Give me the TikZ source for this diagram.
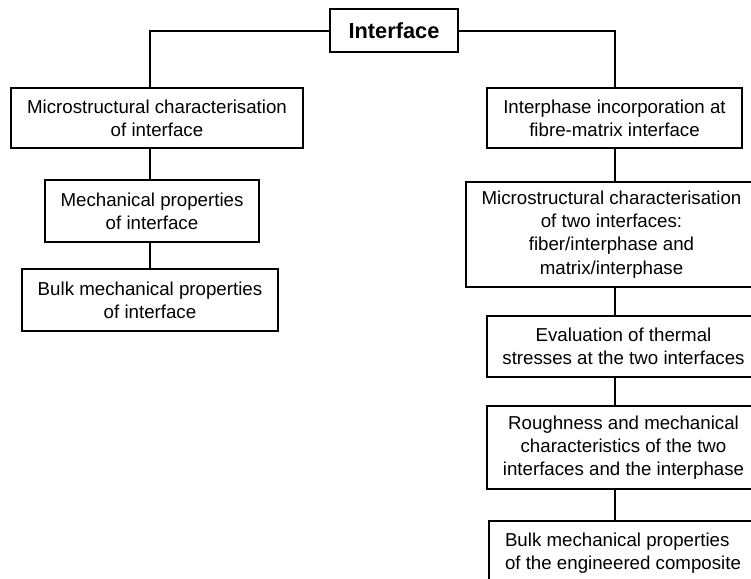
\documentclass[tikz,border=0pt]{standalone}
\usepackage{fontspec}
\setmainfont{Liberation Sans}
\usepackage{tikz}
\usetikzlibrary{positioning,calc}
\newcommand{\boxfont}{\fontsize{9.35}{11.6}\selectfont}
\newcommand{\headfont}{\fontsize{10.9}{13}\selectfont\bfseries}
\tikzset{
  blok/.style={rectangle, draw=black, line width=1pt, align=center, inner sep=0pt,
               font=\boxfont},
  link/.style={line width=1pt, draw=black},
}

\begin{document}
\begin{tikzpicture}[x=0.5pt, y=-0.5pt]
    \path[use as bounding box, clip] (0,0) rectangle (751,579);
    \node[blok, font=\headfont, minimum width=64pt, minimum height=21.5pt] (iface) at (394,30.5)
      {Interface};
    % left branch
    \coordinate (lspine) at (150,0);
    \node[blok, minimum width=146pt, minimum height=30pt] (l1) at (157,118)
      {Microstructural characterisation\\of interface};
    \node[blok, minimum width=107pt, minimum height=31pt] (l2) at (152,211)
      {Mechanical properties\\of interface};
    \node[blok, minimum width=128pt, minimum height=31pt] (l3) at (150,300)
      {Bulk mechanical properties\\of interface};
    % right branch
    \coordinate (rspine) at (614.5,0);
    \node[blok, minimum width=127.5pt, minimum height=30pt] (r1) at (614.5,118)
      {Interphase incorporation at\\fibre-matrix interface};
    \node[blok, minimum width=145.5pt, minimum height=52.5pt] (r2) at (611.5,234.5)
      {Microstructural characterisation\\of two interfaces:\\fiber/interphase and\\matrix/interphase};
    \node[blok, minimum width=136.5pt, minimum height=30.5pt] (r3) at (623.5,346.5)
      {Evaluation of thermal\\stresses at the two interfaces};
    \node[blok, minimum width=136.5pt, minimum height=41.5pt] (r4) at (623.5,447.5)
      {Roughness and mechanical\\characteristics of the two\\interfaces and the interphase};
    \node[blok, align=left, minimum width=134pt, minimum height=32pt] (r5) at (623,553)
      {Bulk mechanical properties\\of the engineered composite};
    \draw[link] (iface.west) -| (lspine |- l1.north);
    \draw[link] (iface.east) -| (rspine |- r1.north);
    \draw[link] (lspine |- l1.south) -- (lspine |- l2.north);
    \draw[link] (lspine |- l2.south) -- (lspine |- l3.north);
    \draw[link] (rspine |- r1.south) -- (rspine |- r2.north);
    \draw[link] (rspine |- r2.south) -- (rspine |- r3.north);
    \draw[link] (rspine |- r3.south) -- (rspine |- r4.north);
    \draw[link] (rspine |- r4.south) -- (rspine |- r5.north);
  \end{tikzpicture}
\end{document}
